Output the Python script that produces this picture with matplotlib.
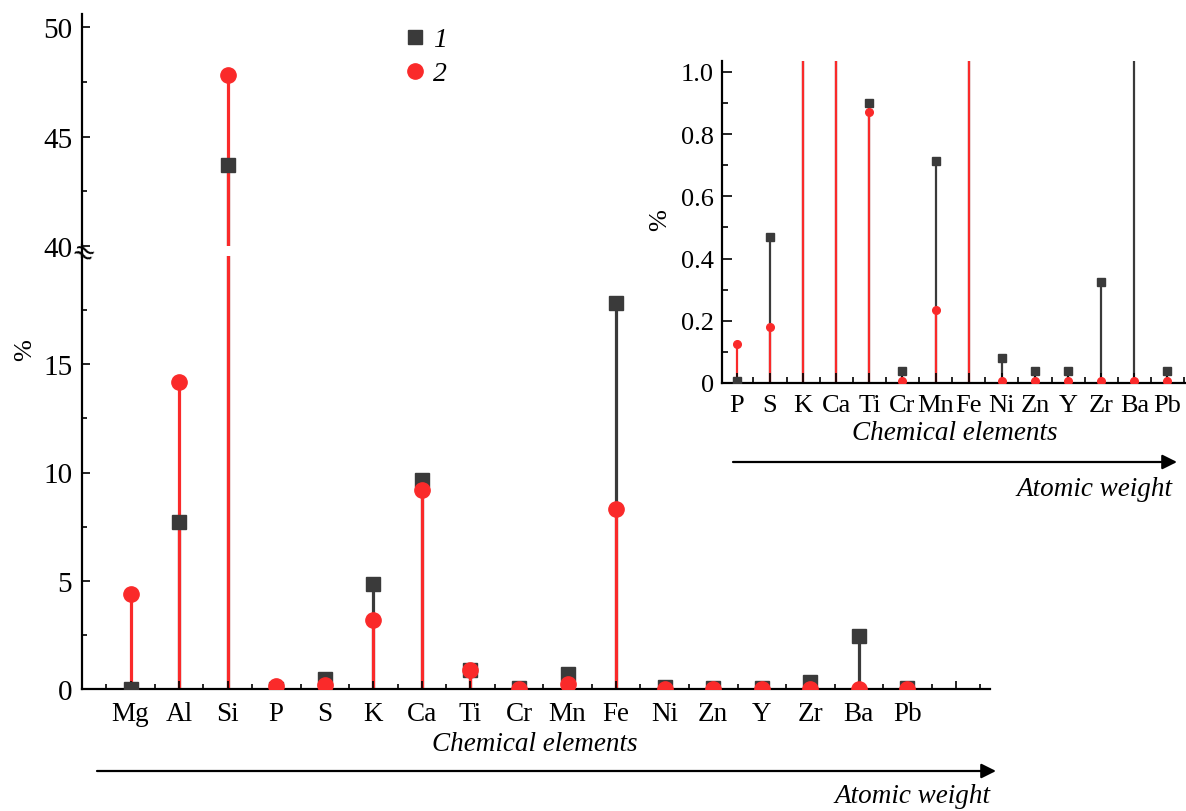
import matplotlib
matplotlib.use("Agg")
import matplotlib.pyplot as plt
from matplotlib.lines import Line2D
from matplotlib.ticker import MultipleLocator, FixedLocator
import numpy as np

plt.rcParams['font.family'] = ['Liberation Serif', 'DejaVu Serif']
plt.rcParams['mathtext.fontset'] = 'stix'

# ---------------- data ----------------
elements = ["Mg", "Al", "Si", "P", "S", "K", "Ca", "Ti", "Cr", "Mn", "Fe",
            "Ni", "Zn", "Y", "Zr", "Ba", "Pb"]
series1 = [0.02, 7.7, 43.7, 0.005, 0.47, 4.85, 9.65, 0.90, 0.04, 0.715, 17.85,
           0.08, 0.04, 0.04, 0.325, 2.45, 0.04]
series2 = [4.4, 14.2, 47.8, 0.125, 0.18, 3.2, 9.2, 0.87, 0.005, 0.235, 8.3,
           0.005, 0.005, 0.005, 0.005, 0.005, 0.005]
inset_elements = elements[3:]
inset_series1 = series1[3:]
inset_series2 = series2[3:]
legend_labels = ["1", "2"]

GRAY = "#3a3a3a"
RED = "#fa2a2a"

W, H = 1186, 812
fig = plt.figure(figsize=(W / 100, H / 100), dpi=100)


def fx(px):
    return px / W


def fy(py):
    return 1 - py / H


x = np.arange(1, len(elements) + 1)

# lower and upper axes of the broken main chart
axL = fig.add_axes([fx(82), fy(690), fx(990) - fx(82), fy(257) - fy(690)])
axU = fig.add_axes([fx(82), fy(247), fx(990) - fx(82), fy(15) - fy(247)])


def draw_stems(ax, xs, v1, v2, lw, ms_s, ms_c):
    ax.vlines(xs, 0, v1, color=GRAY, lw=lw, zorder=2)
    ax.vlines(xs, 0, v2, color=RED, lw=lw, zorder=2.1)
    ax.plot(xs, v1, ls="none", marker="s", ms=ms_s, color=GRAY, mec=GRAY, zorder=3)
    ax.plot(xs, v2, ls="none", marker="o", ms=ms_c, color=RED, mec=RED, zorder=3.1)


for ax in (axL, axU):
    draw_stems(ax, x, series1, series2, 2.3, 9.5, 11)
    ax.set_xlim(0, 18.7)
    ax.spines["top"].set_visible(False)
    ax.spines["right"].set_visible(False)
    ax.spines["left"].set_linewidth(1.6)
    ax.spines["bottom"].set_linewidth(1.6)
    ax.set_axisbelow(False)
    ax.tick_params(which="both", direction="in", width=1.2)
    ax.tick_params(which="major", length=6)
    ax.tick_params(which="minor", length=3.8)
    ax.tick_params(axis="y", pad=7, labelsize=21)
    ax.tick_params(axis="x", labelsize=19.5)

axL.set_ylim(0, 20)
axL.yaxis.set_major_locator(FixedLocator([0, 5, 10, 15]))
axL.yaxis.set_minor_locator(FixedLocator([2.5, 7.5, 12.5, 17.5]))
axL.xaxis.set_major_locator(FixedLocator(list(x) + [18]))
axL.set_xticklabels(elements + [""])
axL.xaxis.set_minor_locator(FixedLocator(np.arange(0.5, 19, 1.0)))
axL.tick_params(axis="x", pad=9)

axU.set_ylim(40, 50.6)
axU.yaxis.set_major_locator(FixedLocator([40, 45, 50]))
axU.yaxis.set_minor_locator(FixedLocator([42.5, 47.5]))
axU.spines["bottom"].set_visible(False)
axU.set_xticks([])
axU.set_xticks([], minor=True)

# connect spine across the break and draw the break symbol
fig.add_artist(Line2D([fx(82), fx(82)], [fy(258), fy(246)], color="black", lw=1.6))
fig.text(fx(82.5), fy(254), "\u2248", ha="center", va="center", fontsize=20,
         rotation=-25, family=["DejaVu Sans"])


def arrow(x0, x1, y):
    axL.annotate("", xy=(fx(x1), fy(y)), xytext=(fx(x0), fy(y)),
                 xycoords="figure fraction", textcoords="figure fraction",
                 annotation_clip=False,
                 arrowprops=dict(arrowstyle="-|>", color="black", lw=1.6,
                                 mutation_scale=22, shrinkA=0, shrinkB=0))


fig.text(fx(25), fy(350), "%", rotation=90, ha="center", va="center", fontsize=19)
fig.text(fx(535), fy(745), "Chemical elements", ha="center", va="center",
         fontsize=19.5, style="italic")
arrow(97, 996, 772)
fig.text(fx(990), fy(797), "Atomic weight", ha="right", va="center",
         fontsize=19.5, style="italic")

# legend
handles = [Line2D([], [], ls="none", marker="s", ms=9.5, color=GRAY),
           Line2D([], [], ls="none", marker="o", ms=11, color=RED)]
leg = axU.legend(handles, legend_labels, loc="upper left",
                 bbox_to_anchor=(fx(407), fy(28)), bbox_transform=fig.transFigure,
                 frameon=False, handlelength=0.6, handletextpad=0.35,
                 labelspacing=0.3, borderpad=0, borderaxespad=0,
                 prop=dict(size=20, style="italic", family="Liberation Serif"))

# ---------------- inset ----------------
xi = np.arange(1, len(inset_elements) + 1)
axI = fig.add_axes([fx(722), fy(384), fx(1186) - fx(722), fy(62) - fy(384)])
draw_stems(axI, xi, inset_series1, inset_series2, 1.6, 5.5, 5.5)
axI.set_xlim(0.55, 14.56)
axI.set_ylim(0, 1.035)
axI.spines["top"].set_visible(False)
axI.spines["right"].set_visible(False)
axI.spines["left"].set_linewidth(1.6)
axI.spines["bottom"].set_linewidth(1.6)
axI.set_axisbelow(False)
axI.xaxis.set_major_locator(FixedLocator(xi))
axI.set_xticklabels(inset_elements)
axI.xaxis.set_minor_locator(FixedLocator(np.arange(0.5, 15, 1.0)))
axI.yaxis.set_major_locator(FixedLocator([0, 0.2, 0.4, 0.6, 0.8, 1.0]))
axI.set_yticklabels(["0", "0.2", "0.4", "0.6", "0.8", "1.0"])
axI.yaxis.set_minor_locator(MultipleLocator(0.1))
axI.tick_params(which="both", direction="in", width=1.2, labelsize=19)
axI.tick_params(which="major", length=7)
axI.tick_params(which="minor", length=4.3)
axI.tick_params(axis="x", pad=8)
axI.tick_params(axis="y", pad=6)

fig.text(fx(660), fy(220), "%", rotation=90, ha="center", va="center", fontsize=19)
fig.text(fx(955), fy(434), "Chemical elements", ha="center", va="center",
         fontsize=19.5, style="italic")
arrow(733, 1177, 463)
fig.text(fx(1172), fy(490), "Atomic weight", ha="right", va="center",
         fontsize=19.5, style="italic")

fig.savefig("out.png", dpi=100)
